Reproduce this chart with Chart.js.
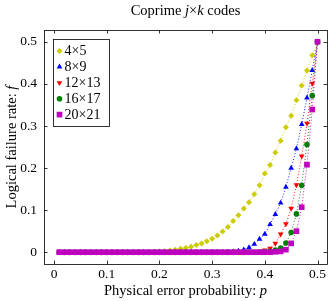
<!DOCTYPE html>
<html>
<head>
<meta charset="utf-8">
<script src="https://cdn.jsdelivr.net/npm/chart.js@4.4.1/dist/chart.umd.min.js"></script>
<style>
  html, body { margin: 0; padding: 0; background: #fff; }
  canvas { display: block; }
</style>
</head>
<body>
<canvas id="chart" width="331" height="301"></canvas>
<script>
// physical error probability p (x values)
const pValues = [0.01, 0.02, 0.03, 0.04, 0.05, 0.06, 0.07, 0.08, 0.09, 0.10,
                 0.11, 0.12, 0.13, 0.14, 0.15, 0.16, 0.17, 0.18, 0.19, 0.20,
                 0.21, 0.22, 0.23, 0.24, 0.25, 0.26, 0.27, 0.28, 0.29, 0.30,
                 0.31, 0.32, 0.33, 0.34, 0.35, 0.36, 0.37, 0.38, 0.39, 0.40,
                 0.41, 0.42, 0.43, 0.44, 0.45, 0.46, 0.47, 0.48, 0.49, 0.50];

// logical failure rate f for each code
const f4x5 = [0, 0, 0, 0, 0, 0, 0, 0, 0, 0,
              0, 0, 0, 0, 0, 0, 0, 0.0005, 0.001, 0.0015,
              0.0025, 0.004, 0.006, 0.008, 0.010, 0.013, 0.017, 0.021, 0.026, 0.032,
              0.040, 0.049, 0.060, 0.074, 0.088, 0.104, 0.119, 0.138, 0.159, 0.187,
              0.207, 0.237, 0.265, 0.297, 0.324, 0.361, 0.396, 0.432, 0.468, 0.5];
const f8x9 = [0, 0, 0, 0, 0, 0, 0, 0, 0, 0,
              0, 0, 0, 0, 0, 0, 0, 0, 0, 0,
              0, 0, 0, 0, 0, 0, 0, 0, 0, 0,
              0, 0, 0.0005, 0.001, 0.003, 0.006, 0.011, 0.019, 0.031, 0.043,
              0.066, 0.090, 0.117, 0.155, 0.200, 0.246, 0.304, 0.367, 0.432, 0.5];
const f12x13 = [0, 0, 0, 0, 0, 0, 0, 0, 0, 0,
                0, 0, 0, 0, 0, 0, 0, 0, 0, 0,
                0, 0, 0, 0, 0, 0, 0, 0, 0, 0,
                0, 0, 0, 0, 0, 0, 0.0005, 0.001, 0.002, 0.005,
                0.009, 0.021, 0.043, 0.067, 0.104, 0.160, 0.228, 0.306, 0.401, 0.5];
const f16x17 = [0, 0, 0, 0, 0, 0, 0, 0, 0, 0,
                0, 0, 0, 0, 0, 0, 0, 0, 0, 0,
                0, 0, 0, 0, 0, 0, 0, 0, 0, 0,
                0, 0, 0, 0, 0, 0, 0, 0, 0.0005, 0.001,
                0.002, 0.005, 0.010, 0.022, 0.047, 0.091, 0.159, 0.256, 0.372, 0.5];
const f20x21 = [0, 0, 0, 0, 0, 0, 0, 0, 0, 0,
                0, 0, 0, 0, 0, 0, 0, 0, 0, 0,
                0, 0, 0, 0, 0, 0, 0, 0, 0, 0,
                0, 0, 0, 0, 0, 0, 0, 0, 0, 0,
                0, 0.001, 0.002, 0.006, 0.021, 0.050, 0.107, 0.208, 0.339, 0.5];

const seriesNames = ['4×5', '8×9', '12×13', '16×17', '20×21'];
const seriesData = [f4x5, f8x9, f12x13, f16x17, f20x21];
const xTicks = [0, 0.1, 0.2, 0.3, 0.4, 0.5];
const yTicks = [0, 0.1, 0.2, 0.3, 0.4, 0.5];

const colors = ['#cccc00', '#0000ff', '#ff0000', '#008000', '#bf00bf'];
const marks = [
  { style: 'rectRot', radius: 3, rotation: 0 },
  { style: 'triangle', radius: 3.3, rotation: 0 },
  { style: 'triangle', radius: 3.3, rotation: 180 },
  { style: 'circle', radius: 2.8, rotation: 0 },
  { style: 'rect', radius: 4, rotation: 0 }
];

const serif = '"Liberation Serif", "DejaVu Serif", serif';
const fontUp = '14.5px ' + serif;
const fontIt = 'italic 14.5px ' + serif;
const fontLegend = '14px ' + serif;

function drawRuns(ctx, runs, cx, cy) {
  let w = 0;
  runs.forEach(r => { ctx.font = r[1]; w += ctx.measureText(r[0]).width; });
  let x = cx - w / 2;
  ctx.textAlign = 'left';
  ctx.textBaseline = 'middle';
  ctx.fillStyle = '#000';
  runs.forEach(r => {
    ctx.font = r[1];
    ctx.fillText(r[0], x, cy);
    x += ctx.measureText(r[0]).width;
  });
}

function drawMark(ctx, i, x, y) {
  const m = marks[i];
  ctx.save();
  ctx.fillStyle = colors[i];
  ctx.strokeStyle = colors[i];
  Chart.helpers.drawPoint(ctx, {
    pointStyle: m.style, rotation: m.rotation, radius: m.radius, borderWidth: 0
  }, x, y);
  ctx.restore();
}

const decorations = {
  id: 'decorations',
  afterDraw(chart) {
    const ctx = chart.ctx;
    const a = chart.chartArea;
    const xs = chart.scales.x, ys = chart.scales.y;
    ctx.save();
    ctx.strokeStyle = '#000';
    ctx.lineWidth = 0.8;
    // frame
    ctx.strokeRect(Math.round(a.left) + 0.5, Math.round(a.top) + 0.5,
                   Math.round(a.right - a.left), Math.round(a.bottom - a.top));
    // inner tick marks
    ctx.beginPath();
    xTicks.forEach(v => {
      const px = Math.round(xs.getPixelForValue(v)) + 0.5;
      ctx.moveTo(px, a.bottom); ctx.lineTo(px, a.bottom - 3.5);
      ctx.moveTo(px, a.top); ctx.lineTo(px, a.top + 3.5);
    });
    yTicks.forEach(v => {
      const py = Math.round(ys.getPixelForValue(v)) + 0.5;
      ctx.moveTo(a.left, py); ctx.lineTo(a.left + 3.5, py);
      ctx.moveTo(a.right, py); ctx.lineTo(a.right - 3.5, py);
    });
    ctx.stroke();

    // legend box
    const lx = 53, ly = 39, lw = 56, lh = 87;
    ctx.fillStyle = '#fff';
    ctx.fillRect(lx, ly, lw, lh);
    ctx.strokeRect(lx + 0.5, ly + 0.5, lw, lh);
    seriesNames.forEach((name, i) => {
      const cy = 51 + i * 15.9;
      drawMark(ctx, i, 59.5, cy);
      ctx.fillStyle = '#000';
      ctx.font = fontLegend;
      ctx.textAlign = 'left';
      ctx.textBaseline = 'middle';
      ctx.fillText(name, 64.5, cy + 0.5);
    });

    // title
    drawRuns(ctx, [['Coprime ', fontUp], ['j', fontIt], ['×', fontUp], ['k', fontIt], [' codes', fontUp]],
             (a.left + a.right) / 2, 11);
    // x axis title
    drawRuns(ctx, [['Physical error probability: ', fontUp], ['p', fontIt]],
             (a.left + a.right) / 2, 291);
    // y axis title
    ctx.translate(12, (a.top + a.bottom) / 2);
    ctx.rotate(-Math.PI / 2);
    drawRuns(ctx, [['Logical failure rate: ', fontUp], ['f', fontIt]], 0, 0);
    ctx.restore();
  }
};

const datasets = seriesNames.map((name, i) => ({
  label: name,
  data: pValues.map((p, j) => ({ x: p, y: seriesData[i][j] })),
  borderColor: colors[i],
  backgroundColor: colors[i],
  borderWidth: 0.9,
  borderDash: [1, 2],
  pointStyle: marks[i].style,
  pointRadius: marks[i].radius,
  pointRotation: marks[i].rotation,
  pointBorderWidth: 0,
  pointHoverRadius: marks[i].radius,
  order: seriesNames.length - i
}));

const tickFmt = v => (v === 0 ? '0' : v.toFixed(1));

new Chart(document.getElementById('chart').getContext('2d'), {
  type: 'line',
  data: { datasets: datasets },
  options: {
    responsive: false,
    animation: false,
    layout: { padding: { left: 0, top: 30, right: 4, bottom: 0 } },
    plugins: {
      legend: { display: false },
      title: { display: false },
      tooltip: { enabled: false }
    },
    scales: {
      x: {
        type: 'linear',
        min: -0.019,
        max: 0.518,
        afterBuildTicks: s => { s.ticks = xTicks.map(v => ({ value: v })); },
        afterFit: s => { s.height = 37; },
        grid: { display: false, drawTicks: false },
        border: { display: false },
        ticks: { font: { family: serif, size: 13.5 }, color: '#000', padding: 2,
                 maxRotation: 0, autoSkip: false, callback: tickFmt }
      },
      y: {
        type: 'linear',
        min: -0.028,
        max: 0.528,
        afterBuildTicks: s => { s.ticks = yTicks.map(v => ({ value: v })); },
        afterFit: s => { s.width = 44; },
        grid: { display: false, drawTicks: false },
        border: { display: false },
        ticks: { font: { family: serif, size: 13.5 }, color: '#000', padding: 7,
                 autoSkip: false, callback: tickFmt }
      }
    }
  },
  plugins: [decorations]
});
</script>
</body>
</html>
